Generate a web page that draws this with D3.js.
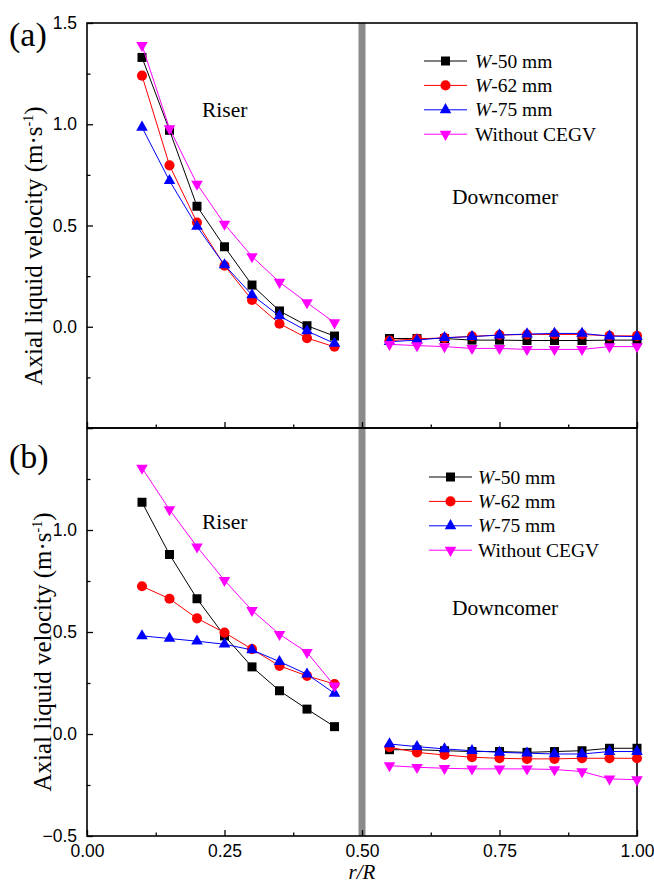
<!DOCTYPE html>
<html>
<head>
<meta charset="utf-8">
<script src="https://cdn.jsdelivr.net/npm/d3@7"></script>
<style>
  html, body { margin: 0; padding: 0; background: #fff; }
  svg { display: block; font-family: "Liberation Serif", "Times New Roman", serif; }
</style>
</head>
<body>
<div id="chart"></div>
<script>
// Radial positions r/R
const riserX = [0.10, 0.15, 0.20, 0.25, 0.30, 0.35, 0.40, 0.45];
const downX = [0.55, 0.60, 0.65, 0.70, 0.75, 0.80, 0.85, 0.90, 0.95, 1.00];

// Panel (a) — axial liquid velocity, m/s
const a_W50_riser = [1.33, 0.97, 0.595, 0.395, 0.206, 0.078, 0.005, -0.046];
const a_W62_riser = [1.24, 0.797, 0.515, 0.302, 0.132, 0.015, -0.056, -0.099];
const a_W75_riser = [0.985, 0.721, 0.495, 0.305, 0.157, 0.053, -0.021, -0.082];
const a_noCEGV_riser = [1.39, 0.979, 0.705, 0.507, 0.347, 0.22, 0.119, 0.02];
const a_W50_down = [-0.058, -0.058, -0.058, -0.066, -0.066, -0.068, -0.068, -0.068, -0.066, -0.066];
const a_W62_down = [-0.068, -0.06, -0.055, -0.047, -0.041, -0.038, -0.038, -0.038, -0.045, -0.045];
const a_W75_down = [-0.074, -0.066, -0.054, -0.049, -0.041, -0.036, -0.033, -0.033, -0.046, -0.049];
const a_noCEGV_down = [-0.087, -0.093, -0.098, -0.107, -0.107, -0.112, -0.112, -0.112, -0.098, -0.098];

// Panel (b)
const b_W50_riser = [1.136, 0.88, 0.663, 0.481, 0.329, 0.212, 0.122, 0.036];
const b_W62_riser = [0.724, 0.663, 0.567, 0.497, 0.416, 0.334, 0.285, 0.245];
const b_W75_riser = [0.481, 0.468, 0.455, 0.44, 0.412, 0.355, 0.293, 0.199];
const b_noCEGV_riser = [1.304, 1.10, 0.918, 0.753, 0.606, 0.489, 0.40, 0.236];
const b_W50_down = [-0.077, -0.077, -0.082, -0.086, -0.086, -0.09, -0.086, -0.082, -0.07, -0.07];
const b_W62_down = [-0.065, -0.09, -0.103, -0.114, -0.119, -0.122, -0.122, -0.119, -0.119, -0.119];
const b_W75_down = [-0.049, -0.062, -0.073, -0.082, -0.09, -0.094, -0.098, -0.098, -0.086, -0.086];
const b_noCEGV_down = [-0.155, -0.163, -0.168, -0.171, -0.171, -0.171, -0.174, -0.184, -0.22, -0.224];

const seriesNames = ['W-50 mm', 'W-62 mm', 'W-75 mm', 'Without CEGV'];
const seriesColors = ['#000000', '#ff0000', '#0000ff', '#ff00ff'];
const seriesSymbols = ['square', 'circle', 'up', 'down'];

const xMajor = [0, 0.25, 0.5, 0.75, 1.0];
const xMinor = [0.125, 0.375, 0.625, 0.875];
const yMajor = [-0.5, 0, 0.5, 1.0, 1.5];
const yMinor = [-0.25, 0.25, 0.75, 1.25];
const aYLabels = [0, 0.5, 1.0, 1.5];
const bYLabels = [-0.5, 0, 0.5, 1.0];

const W = 654, H = 884;
const left = 87, right = 637;
const panels = [
  { tag: '(a)', top: 23, bottom: 428, data: [[a_W50_riser, a_W50_down], [a_W62_riser, a_W62_down], [a_W75_riser, a_W75_down], [a_noCEGV_riser, a_noCEGV_down]],
    yLabels: aYLabels, xLabels: false, tagY: 46, labelX: 42, labelY: 246, riserY: 117, downY: 204, legY: 61, legX: 424, legTextX: 475 },
  { tag: '(b)', top: 428, bottom: 836, data: [[b_W50_riser, b_W50_down], [b_W62_riser, b_W62_down], [b_W75_riser, b_W75_down], [b_noCEGV_riser, b_noCEGV_down]],
    yLabels: bYLabels, xLabels: true, tagY: 468, labelX: 51, labelY: 652, riserY: 529, downY: 615, legY: 477, legX: 429, legTextX: 478 }
];

const svg = d3.select('#chart').append('svg')
  .attr('width', W)
  .attr('height', H);

const x = d3.scaleLinear().domain([0, 1]).range([left, right]);

function symbolPath(kind) {
  if (kind === 'square') return d3.symbol(d3.symbolSquare, 81)();
  if (kind === 'circle') return d3.symbol(d3.symbolCircle, 80)();
  return d3.symbol(d3.symbolTriangle, 58)();
}
function symbolTransform(kind, px, py) {
  return kind === 'down' ? `translate(${px},${py}) rotate(180)` : `translate(${px},${py})`;
}

// gray divider between riser and downcomer
svg.append('rect')
  .attr('x', x(0.5) - 3.5)
  .attr('y', panels[0].top)
  .attr('width', 7)
  .attr('height', panels[1].bottom - panels[0].top)
  .attr('fill', '#8a8a8a');

panels.forEach(p => {
  const y = d3.scaleLinear().domain([-0.5, 1.5]).range([p.bottom, p.top]);
  const g = svg.append('g');

  // Y axis
  const yAx = g.append('g')
    .attr('transform', `translate(${left},0)`)
    .call(d3.axisLeft(y).tickValues(yMajor).tickSizeInner(-6).tickSizeOuter(0).tickPadding(10)
      .tickFormat(d => p.yLabels.includes(d) ? d3.format('.1f')(d) : ''));
  yAx.select('.domain').remove();
  yAx.selectAll('text').style('font-size', '17.5px').attr('fill', '#000');
  g.append('g')
    .attr('transform', `translate(${left},0)`)
    .call(d3.axisLeft(y).tickValues(yMinor).tickSizeInner(-3.5).tickSizeOuter(0).tickFormat(''))
    .select('.domain').remove();

  // X axis
  const xAx = g.append('g')
    .attr('transform', `translate(0,${p.bottom})`)
    .call(d3.axisBottom(x).tickValues(xMajor).tickSizeInner(-6).tickSizeOuter(0).tickPadding(9)
      .tickFormat(d => p.xLabels ? d3.format('.2f')(d) : ''));
  xAx.select('.domain').remove();
  xAx.selectAll('text').style('font-size', '17.5px').attr('fill', '#000');
  g.append('g')
    .attr('transform', `translate(0,${p.bottom})`)
    .call(d3.axisBottom(x).tickValues(xMinor).tickSizeInner(-3.5).tickSizeOuter(0).tickFormat(''))
    .select('.domain').remove();

  g.selectAll('.tick line').attr('stroke', '#000').attr('stroke-width', 1.3);

  // frame
  g.append('rect')
    .attr('x', left).attr('y', p.top)
    .attr('width', right - left).attr('height', p.bottom - p.top)
    .attr('fill', 'none').attr('stroke', '#000').attr('stroke-width', 1.6);

  // series
  const line = d3.line().x(d => x(d[0])).y(d => y(d[1]));
  p.data.forEach((pair, i) => {
    const segs = [riserX.map((r, k) => [r, pair[0][k]]), downX.map((r, k) => [r, pair[1][k]])];
    segs.forEach(seg => {
      g.append('path').datum(seg)
        .attr('d', line)
        .attr('fill', 'none')
        .attr('stroke', seriesColors[i])
        .attr('stroke-width', 1);
      g.selectAll(null).data(seg).enter().append('path')
        .attr('d', symbolPath(seriesSymbols[i]))
        .attr('transform', d => symbolTransform(seriesSymbols[i], x(d[0]), y(d[1])))
        .attr('fill', seriesColors[i]);
    });
  });

  // legend
  seriesNames.forEach((name, i) => {
    const ly = p.legY + i * 24.4;
    g.append('line')
      .attr('x1', p.legX).attr('x2', p.legX + 43)
      .attr('y1', ly).attr('y2', ly)
      .attr('stroke', seriesColors[i]).attr('stroke-width', 1);
    g.append('path')
      .attr('d', symbolPath(seriesSymbols[i]))
      .attr('transform', symbolTransform(seriesSymbols[i], p.legX + 21.5, ly))
      .attr('fill', seriesColors[i]);
    const t = g.append('text')
      .attr('x', p.legTextX).attr('y', ly + 6.5)
      .style('font-size', '19.5px');
    if (name.startsWith('W-')) {
      t.append('tspan').style('font-style', 'italic').text('W');
      t.append('tspan').text(name.slice(1));
    } else {
      t.text(name);
    }
  });

  // region labels
  g.append('text').attr('x', 202).attr('y', p.riserY).style('font-size', '21.5px').text('Riser');
  g.append('text').attr('x', 452).attr('y', p.downY).style('font-size', '21.5px').text('Downcomer');

  // panel tag
  g.append('text').attr('x', 9).attr('y', p.tagY).style('font-size', '34px').text(p.tag);

  // y-axis title
  const yt = g.append('text')
    .attr('transform', `translate(${p.labelX},${p.labelY}) rotate(-90)`)
    .attr('text-anchor', 'middle')
    .style('font-size', '25px');
  yt.append('tspan').text('Axial liquid velocity (m·s');
  yt.append('tspan').attr('dy', -9).style('font-size', '14px').text('-1');
  yt.append('tspan').attr('dy', 9).text(')');
});

// x-axis title
svg.append('text')
  .attr('x', x(0.5)).attr('y', 879)
  .attr('text-anchor', 'middle')
  .style('font-size', '21px')
  .style('font-style', 'italic')
  .text('r/R');
</script>
</body>
</html>
